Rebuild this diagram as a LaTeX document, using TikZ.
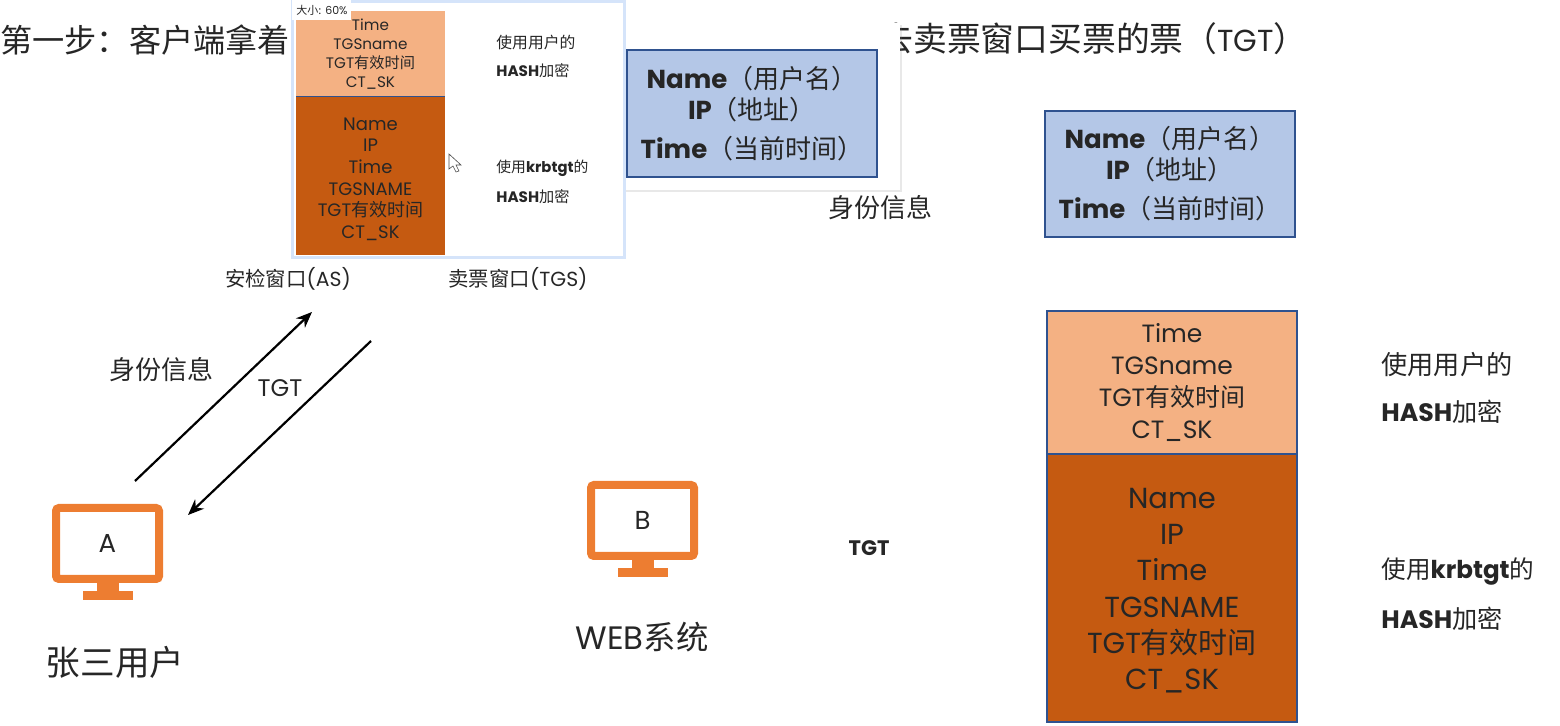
\documentclass[tikz,border=0pt]{standalone}
\usepackage{fontspec}
\setmainfont{Poppins}
\newfontfamily\cjk{Noto Sans CJK SC}
\usetikzlibrary{shadows,arrows.meta}
\definecolor{peach}{RGB}{244,177,131}
\definecolor{rust}{RGB}{197,90,17}
\definecolor{paleblue}{RGB}{180,199,231}
\definecolor{edgeblue}{RGB}{47,82,143}
\definecolor{monitor}{RGB}{237,125,49}
\definecolor{glow}{RGB}{213,228,250}
\tikzset{
  txt/.style={inner sep=0pt,align=center,text=black!85},
  infobox/.style={draw=edgeblue,line width=0.8pt,fill=paleblue,inner sep=0pt,outer sep=0pt,anchor=north west,txt},
  shot/.style={fill=white,draw=none,anchor=north west,inner sep=0pt},
  screen/.style={draw=monitor,line width=4pt,rounded corners=1.5pt,inner sep=0pt,txt,minimum width=51.5pt,minimum height=35.5pt},
  arrowline/.style={line width=1.1pt,-{Stealth[length=8pt,width=6.5pt]}}
}
\begin{document}
\begin{tikzpicture}[x=0.5pt,y=-0.5pt]
\useasboundingbox (0,0) rectangle (1560,726);

% title
\node[txt,anchor=west,font=\fontsize{16.1}{20}\selectfont] (titleL) at (0,40) {\cjk 第一步：客户端拿着};
\node[txt,anchor=west,font=\fontsize{16.9}{20}\selectfont] (titleR) at (879,39) {{\cjk 去卖票窗口买票的票（}{\fontsize{15.2}{20}\selectfont TGT}{\cjk ）}};

% pasted screenshots
\node[shot,minimum width=138pt,minimum height=83.5pt,drop shadow={shadow xshift=1pt,shadow yshift=-1pt,opacity=.18}] (shotB) at (624,23) {};
\node[shot,draw=glow,line width=1.5pt,minimum width=166pt,minimum height=128pt] (shotA) at (291,0) {};

\node[infobox,minimum width=74.5pt,minimum height=43pt,fill=peach,draw=none,font=\fontsize{7.6}{9.5}\selectfont] (smallK) at (296,11) {Time\\TGSname\\TGT{\cjk 有效时间}\\CT\_SK};
\node[infobox,minimum width=74.5pt,minimum height=79pt,fill=rust,draw=none,font=\fontsize{9}{10.85}\selectfont] (smallT) at (296,97) {\rule{0pt}{9.5pt}Name\\IP\\Time\\TGSNAME\\TGT{\cjk 有效时间}\\CT\_SK};
\draw[edgeblue,line width=0.5pt] (smallK.south west) -- (smallK.south east);
\node[txt,anchor=west,font=\fontsize{7.9}{9}\selectfont] (smallU1) at (496,43) {\cjk 使用用户的};
\node[txt,anchor=west,font=\fontsize{7.6}{9}\selectfont\bfseries] (smallU2) at (496,71) {HASH{\cjk\mdseries 加密}};
\node[txt,anchor=west,font=\fontsize{7.4}{9}\selectfont] (smallV1) at (496,168) {{\cjk 使用}\textbf{krbtgt}{\cjk 的}};
\node[txt,anchor=west,font=\fontsize{7.6}{9}\selectfont\bfseries] (smallV2) at (496,197) {HASH{\cjk\mdseries 加密}};
\node[fill=white,txt,minimum width=29.5pt,minimum height=10pt,anchor=north west,font=\fontsize{5.5}{7}\selectfont] (zoomtag) at (292,0) {{\cjk 大小:} 60\%};
\draw[black!70,fill=white,line width=0.3pt] (449,154) -- (449,169) -- (453,166) -- (456,172) -- (459,171) -- (456,165) -- (461,165) -- cycle;

\node[infobox,minimum width=125pt,minimum height=63.5pt,font=\fontsize{13}{15.5}\selectfont\bfseries] (infoS) at (627,50) {Name{\cjk\mdseries（用户名）}\\IP{\cjk\mdseries（地址）}\\[4pt]Time{\cjk\mdseries（当前时间）}};

% right column
\node[infobox,minimum width=125pt,minimum height=63pt,font=\fontsize{13}{15.5}\selectfont\bfseries] (info) at (1045,111) {Name{\cjk\mdseries（用户名）}\\IP{\cjk\mdseries（地址）}\\[4pt]Time{\cjk\mdseries（当前时间）}};
\node[infobox,minimum width=125pt,minimum height=71.5pt,fill=peach,font=\fontsize{12.5}{16}\selectfont] (keybox) at (1047,311) {Time\\TGSname\\TGT{\cjk 有效时间}\\CT\_SK};
\node[infobox,minimum width=125pt,minimum height=134pt,fill=rust,font=\fontsize{14.5}{18.1}\selectfont] (tgtbox) at (1047,454) {\rule{0pt}{12.7pt}Name\\IP\\Time\\TGSNAME\\TGT{\cjk 有效时间}\\CT\_SK};
\node[txt,anchor=west,font=\fontsize{13.1}{15}\selectfont] (userA) at (1381,365) {\cjk 使用用户的};
\node[txt,anchor=west,font=\fontsize{12.6}{15}\selectfont\bfseries] (userB) at (1381,412) {HASH{\cjk\mdseries 加密}};
\node[txt,anchor=west,font=\fontsize{12.3}{15}\selectfont] (krbA) at (1381,572) {{\cjk 使用}\textbf{krbtgt}{\cjk 的}};
\node[txt,anchor=west,font=\fontsize{12.6}{15}\selectfont\bfseries] (krbB) at (1381,619) {HASH{\cjk\mdseries 加密}};

% labels
\node[txt,font=\fontsize{13}{15}\selectfont] (idR) at (880,208) {\cjk 身份信息};
\node[txt,font=\fontsize{10.5}{13}\selectfont\bfseries] (tgtR) at (869,548) {TGT};
\node[txt,font=\fontsize{10.2}{13}\selectfont] (winAS) at (288,279) {{\cjk 安检窗口}(AS)};
\node[txt,font=\fontsize{10.2}{13}\selectfont] (winTGS) at (518,279) {{\cjk 卖票窗口}(TGS)};
\node[txt,font=\fontsize{13}{15}\selectfont] (idL) at (161,370) {\cjk 身份信息};
\node[txt,font=\fontsize{12}{15}\selectfont] (tgtL) at (280,388) {TGT};

% monitors
\node[screen,font=\fontsize{13}{15}\selectfont] (pcA) at (107.5,543.5) {A};
\fill[monitor] (pcA.south) ++(-11,0) rectangle ++(22,10);
\fill[monitor] (pcA.south) ++(-25,8) rectangle ++(50,9);
\node[screen,font=\fontsize{13}{15}\selectfont] (pcB) at (642.5,520.5) {\raisebox{-1.7pt}{B}};
\fill[monitor] (pcB.south) ++(-11,0) rectangle ++(22,10);
\fill[monitor] (pcB.south) ++(-25,8) rectangle ++(50,9);
\node[txt,font=\fontsize{17.3}{20}\selectfont] (nameA) at (115,662) {\cjk 张三用户};
\node[txt,font=\fontsize{16.2}{20}\selectfont] (nameB) at (642,637) {WEB{\cjk 系统}};

% arrows
\coordinate (upS) at (135,481);
\coordinate (upE) at (312,312);
\coordinate (downS) at (371,341);
\coordinate (downE) at (188,515);
\draw[arrowline] (upS) -- (upE);
\draw[arrowline] (downS) -- (downE);
\end{tikzpicture}
\end{document}
